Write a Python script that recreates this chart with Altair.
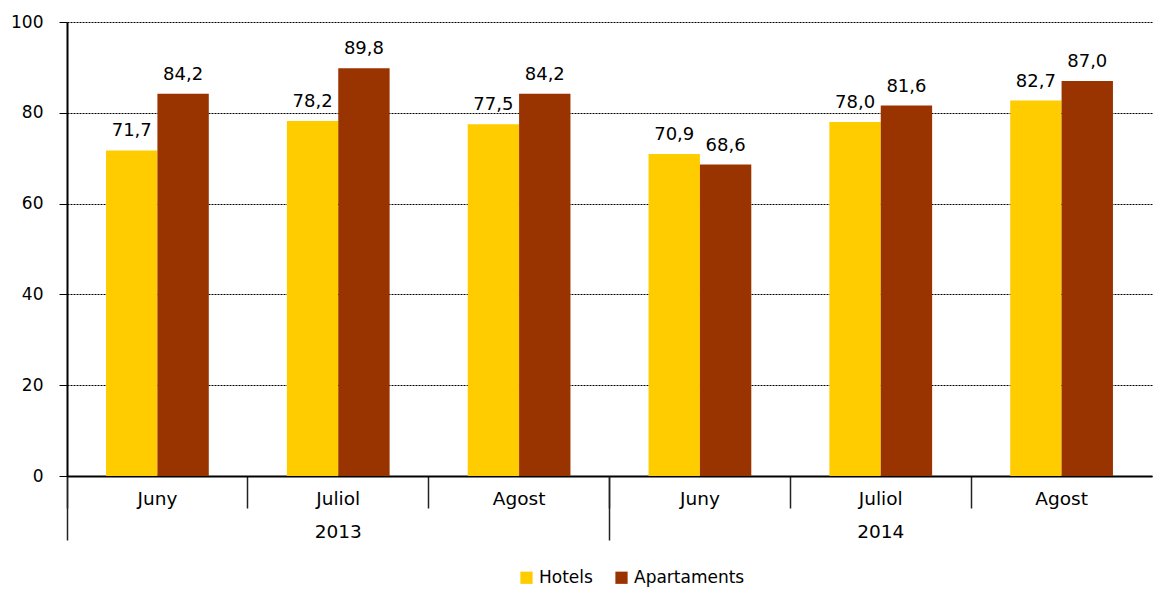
import altair as alt
import pandas as pd

years = ["2013", "2013", "2013", "2014", "2014", "2014"]
months = ["Juny", "Juliol", "Agost", "Juny", "Juliol", "Agost"]
hotels = [71.7, 78.2, 77.5, 70.9, 78.0, 82.7]
apartaments = [84.2, 89.8, 84.2, 68.6, 81.6, 87.0]
series = ["Hotels", "Apartaments"]
colors = ["#FFCC00", "#993300"]
y_ticks = [0, 20, 40, 60, 80, 100]

rows = []
for y, m, h, a in zip(years, months, hotels, apartaments):
    for s, v in zip(series, [h, a]):
        rows.append({"key": f"{y}|{m}", "year": y, "serie": s, "val": v,
                     "label": f"{v:.1f}".replace(".", ",")})
df = pd.DataFrame(rows)
keys = [f"{y}|{m}" for y, m in zip(years, months)]
uyears = sorted(set(years))
year_df = pd.DataFrame({"year": uyears, "val": [0] * len(uyears)})

FONT = "DejaVu Sans"

x_month = alt.X("key:N", sort=keys, scale=alt.Scale(paddingInner=0, paddingOuter=0),
                axis=alt.Axis(title=None, labelExpr="split(datum.label, '|')[1]",
                              bandPosition=0, tickSize=32, tickColor="#222", tickWidth=1.5,
                              labelPadding=-19, labelAngle=0, labelFontSize=18.5, labelFont=FONT,
                              labelColor="#000", domainColor="#000", domainWidth=2,
                              labelBaseline="top"))
y_enc = alt.Y("val:Q", scale=alt.Scale(domain=[0, 100], nice=False),
              axis=alt.Axis(title=None, values=y_ticks, grid=True, gridColor="#000",
                            gridDash=[2, 1], gridWidth=1, tickSize=8, tickColor="#000",
                            labelPadding=16, labelFontSize=17, labelFont=FONT, labelColor="#000",
                            domainColor="#000", domainWidth=2))

base = alt.Chart(df)
bars = base.mark_bar(stroke=None).encode(
    x=x_month,
    xOffset=alt.XOffset("serie:N", sort=series,
                        scale=alt.Scale(paddingInner=0, paddingOuter=0.76)),
    y=y_enc,
    color=alt.Color("serie:N", sort=series,
                    scale=alt.Scale(domain=series, range=colors),
                    legend=alt.Legend(title=None, orient="none", direction="horizontal",
                                      legendX=451, legendY=547, symbolType="square",
                                      symbolSize=150, symbolStrokeWidth=0, labelFontSize=17,
                                      labelFont=FONT, labelColor="#000", columnPadding=20,
                                      labelOffset=4)),
)
texts = base.mark_text(baseline="bottom", dy=-10, fontSize=18, font=FONT, color="#000").encode(
    x=alt.X("key:N", sort=keys),
    xOffset=alt.XOffset("serie:N", sort=series),
    y=alt.Y("val:Q"),
    text="label:N",
)
month_layer = alt.layer(bars, texts)

year_layer = alt.Chart(year_df).mark_bar(opacity=0).encode(
    x=alt.X("year:N", scale=alt.Scale(type="band", paddingInner=0, paddingOuter=0),
            axis=alt.Axis(title=None, orient="bottom", bandPosition=0, tickSize=64,
                          tickColor="#222", tickWidth=1.5, labelPadding=-18, labelAngle=0,
                          labelFontSize=18.5, labelFont=FONT, labelColor="#000", domain=False,
                          labelBaseline="top")),
    y=alt.Y("val:Q"),
)

chart = alt.layer(month_layer, year_layer).resolve_scale(x="independent").properties(
    width=1085, height=454,
    autosize=alt.AutoSizeParams(type="none"),
    padding={"left": 59, "top": 14, "right": 2, "bottom": 113},
).configure_view(stroke=None).configure_axis(grid=False)

chart.save("out.html", embed_options={"renderer": "svg", "actions": False})
